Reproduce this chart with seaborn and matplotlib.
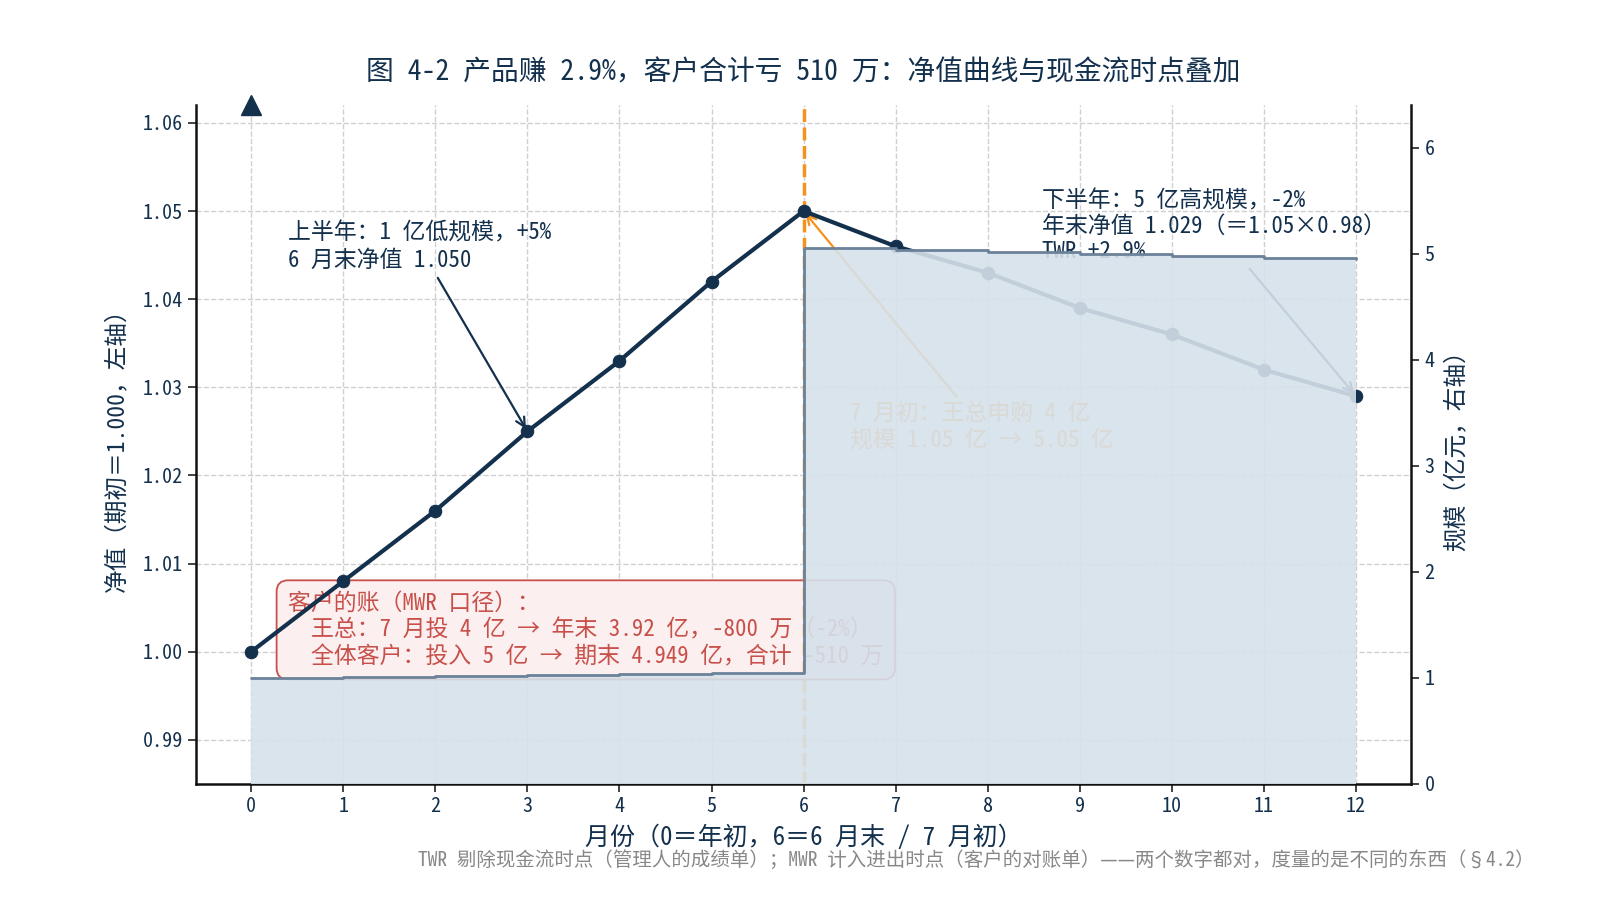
import matplotlib
matplotlib.use('Agg')
import matplotlib.pyplot as plt
import seaborn as sns

# data
months = [0, 1, 2, 3, 4, 5, 6, 7, 8, 9, 10, 11, 12]
nav = [1.000, 1.008, 1.016, 1.025, 1.033, 1.042, 1.050,
       1.046, 1.043, 1.039, 1.036, 1.032, 1.029]
scale = [1.000, 1.008, 1.016, 1.025, 1.033, 1.042, 5.050,
         5.033, 5.016, 4.998, 4.981, 4.964, 4.949]
flow_month = 6

title = '图 4-2 产品赚 2.9%，客户合计亏 510 万：净值曲线与现金流时点叠加'
note_h1 = '上半年：1 亿低规模，+5%\n6 月末净值 1.050'
note_h2 = '下半年：5 亿高规模，-2%\n年末净值 1.029（＝1.05×0.98）\nTWR +2.9%'
note_flow = '7 月初：王总申购 4 亿\n规模 1.05 亿 → 5.05 亿'
note_mwr = ('客户的账（MWR 口径）：\n'
            '  王总：7 月投 4 亿 → 年末 3.92 亿，-800 万（-2%）\n'
            '  全体客户：投入 5 亿 → 期末 4.949 亿，合计 -510 万')
footer = 'TWR 剔除现金流时点（管理人的成绩单）；MWR 计入进出时点（客户的对账单）——两个数字都对，度量的是不同的东西（§4.2）'

NAVY = '#13304d'
ORANGE = '#f5921e'
RED = '#c8504a'

sns.set_theme(style='ticks')
plt.rcParams['font.family'] = ['Noto Sans Mono CJK SC', 'Noto Sans CJK SC', 'DejaVu Sans']
plt.rcParams['axes.unicode_minus'] = False

fig = plt.figure(figsize=(16, 9), dpi=100)
ax = fig.add_axes([0.1225, 0.129, 0.7595, 0.754])

ax.grid(True, linestyle='--', color='#d0d0d0', linewidth=1)
sns.lineplot(x=months, y=nav, ax=ax, color=NAVY, linewidth=3, marker='o',
             markersize=9, markeredgecolor=NAVY, zorder=4)
ax.axvline(flow_month, color=ORANGE, linestyle='--', linewidth=2.5, zorder=3)
ax.plot(0, 1, marker='^', color=NAVY, markersize=14,
        transform=ax.get_xaxis_transform(), clip_on=False, zorder=5)

ax.annotate(note_h1, xy=(3, nav[3]), xytext=(0.40, 1.0488), fontsize=16.5,
            color=NAVY, ha='left', va='top', linespacing=1.25,
            arrowprops=dict(arrowstyle='->', color=NAVY, lw=1.6))
ax.annotate(note_h2, xy=(12, nav[12]), xytext=(8.59, 1.0525), fontsize=16.5,
            color=NAVY, ha='left', va='top', linespacing=1.15,
            arrowprops=dict(arrowstyle='->', color=NAVY, lw=1.6))
ax.annotate(note_flow, xy=(6, nav[6]), xytext=(6.50, 1.0283), fontsize=16.5,
            color=ORANGE, ha='left', va='top', linespacing=1.2,
            arrowprops=dict(arrowstyle='->', color=ORANGE, lw=1.6))
ax.text(0.40, 1.0068, note_mwr, fontsize=16.5, color=RED, ha='left', va='top',
        zorder=2, linespacing=1.2,
        bbox=dict(boxstyle='round,pad=0.5', facecolor='#fcefef', edgecolor=RED, lw=1.3))

ax.set_xlim(-0.6, 12.6)
ax.set_ylim(0.985, 1.062)
ax.set_xticks(months)
ax.set_yticks([0.99, 1.00, 1.01, 1.02, 1.03, 1.04, 1.05, 1.06])
ax.set_yticklabels(['0.99', '1.00', '1.01', '1.02', '1.03', '1.04', '1.05', '1.06'])
ax.tick_params(labelsize=14.5, colors=NAVY, length=6, width=1.2)
ax.tick_params(axis='both', color='#222222')
for s in ['left', 'bottom']:
    ax.spines[s].set_color('#111111')
    ax.spines[s].set_linewidth(1.8)
ax.spines['top'].set_visible(False)
ax.spines['right'].set_visible(False)
ax.set_xlabel('月份（0＝年初，6＝6 月末 / 7 月初）', fontsize=18, color=NAVY, labelpad=6)
ax.set_ylabel('净值（期初＝1.000，左轴）', fontsize=17, color=NAVY, labelpad=10)
ax.set_title(title, fontsize=20, color=NAVY, pad=18)

ax2 = ax.twinx()
ax2.fill_between(months, scale, step='post', color='#d6e1ea', alpha=0.9, linewidth=0)
ax2.step(months, scale, where='post', color='#6b8299', linewidth=2)
ax2.set_ylim(0, 6.4)
ax2.set_yticks([0, 1, 2, 3, 4, 5, 6])
ax2.tick_params(labelsize=14.5, colors=NAVY, length=6, width=1.2)
ax2.tick_params(axis='y', color='#222222')
ax2.spines['right'].set_color('#111111')
ax2.spines['right'].set_linewidth(1.8)
ax2.spines['top'].set_visible(False)
ax2.spines['left'].set_visible(False)
ax2.spines['bottom'].set_visible(False)
ax2.set_ylabel('规模（亿元，右轴）', fontsize=17, color=NAVY, labelpad=7)

fig.text(0.959, 0.033, footer, fontsize=14, color='#888888', ha='right', va='bottom')

fig.savefig('out.png', dpi=100)
